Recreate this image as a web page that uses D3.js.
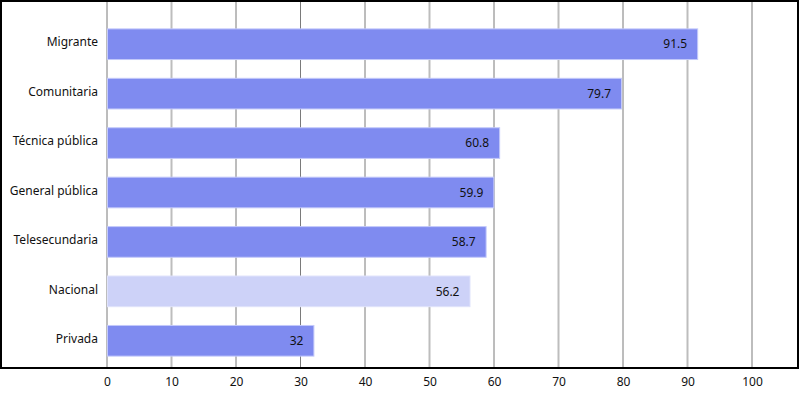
<!DOCTYPE html>
<html>
<head>
<meta charset="utf-8">
<script src="https://cdn.jsdelivr.net/npm/d3@7/dist/d3.min.js"></script>
<style>
  body { margin: 0; background: #fff; }
  svg text { font-family: "Noto Sans", "Open Sans", sans-serif; fill: #111; }
</style>
</head>
<body>
<svg id="chart" width="800" height="400"></svg>
<script>
const categories = ["Migrante", "Comunitaria", "Técnica pública", "General pública", "Telesecundaria", "Nacional", "Privada"];
const values = [91.5, 79.7, 60.8, 59.9, 58.7, 56.2, 32];
const highlight = ["Nacional"];
const tickValues = [0, 10, 20, 30, 40, 50, 60, 70, 80, 90, 100];
const lightTicks = [10, 50, 70, 90, 100];

const svg = d3.select("#chart");
const frame = { left: 1, top: 1, right: 798, bottom: 368 };

const x = d3.scaleLinear().domain([0, 100]).range([107, 752]);
const y = d3.scaleBand().domain(categories).range([19, 366]).paddingInner(0.38).paddingOuter(0.2);

// grid
svg.append("g")
  .selectAll("line")
  .data(tickValues)
  .join("line")
  .attr("x1", d => x(d)).attr("x2", d => x(d))
  .attr("y1", frame.top).attr("y2", frame.bottom)
  .attr("stroke", d => lightTicks.includes(d) ? "#bdbdbd" : "#7a7a7a")
  .attr("stroke-width", d => lightTicks.includes(d) ? 2 : 1);

const rows = categories.map((c, i) => ({ name: c, value: values[i] }));

// bars
svg.append("g")
  .selectAll("rect")
  .data(rows)
  .join("rect")
  .attr("x", x(0) + 0.5)
  .attr("y", d => y(d.name))
  .attr("width", d => x(d.value) - x(0))
  .attr("height", y.bandwidth())
  .attr("fill", d => highlight.includes(d.name) ? "#cdd2f8" : "#7f8bf0")
  .attr("stroke", d => highlight.includes(d.name) ? "#dfe2fb" : "#c3c9fa")
  .attr("stroke-width", 1);

// value labels
svg.append("g")
  .selectAll("text")
  .data(rows)
  .join("text")
  .attr("x", d => x(d.value) - 10)
  .attr("y", d => y(d.name) + y.bandwidth() / 2)
  .attr("dy", "0.35em")
  .attr("text-anchor", "end")
  .style("font-size", "12px")
  .text(d => d.value);

// category labels
svg.append("g")
  .selectAll("text")
  .data(rows)
  .join("text")
  .attr("x", x(0) - 9)
  .attr("y", d => y(d.name) + y.bandwidth() / 2 - 2)
  .attr("dy", "0.35em")
  .attr("text-anchor", "end")
  .style("font-size", "12px")
  .text(d => d.name);

// frame
svg.append("rect")
  .attr("x", frame.left).attr("y", frame.top)
  .attr("width", frame.right - frame.left)
  .attr("height", frame.bottom - frame.top)
  .attr("fill", "none")
  .attr("stroke", "#000")
  .attr("stroke-width", 2);

// x axis
const axis = svg.append("g")
  .attr("transform", `translate(0,${frame.bottom})`)
  .call(d3.axisBottom(x).tickValues(tickValues).tickSize(0).tickPadding(9));
axis.select(".domain").remove();
axis.selectAll("text").style("font-size", "12px").style("font-family", "'Noto Sans', sans-serif").attr("fill", "#111");
</script>
</body>
</html>
